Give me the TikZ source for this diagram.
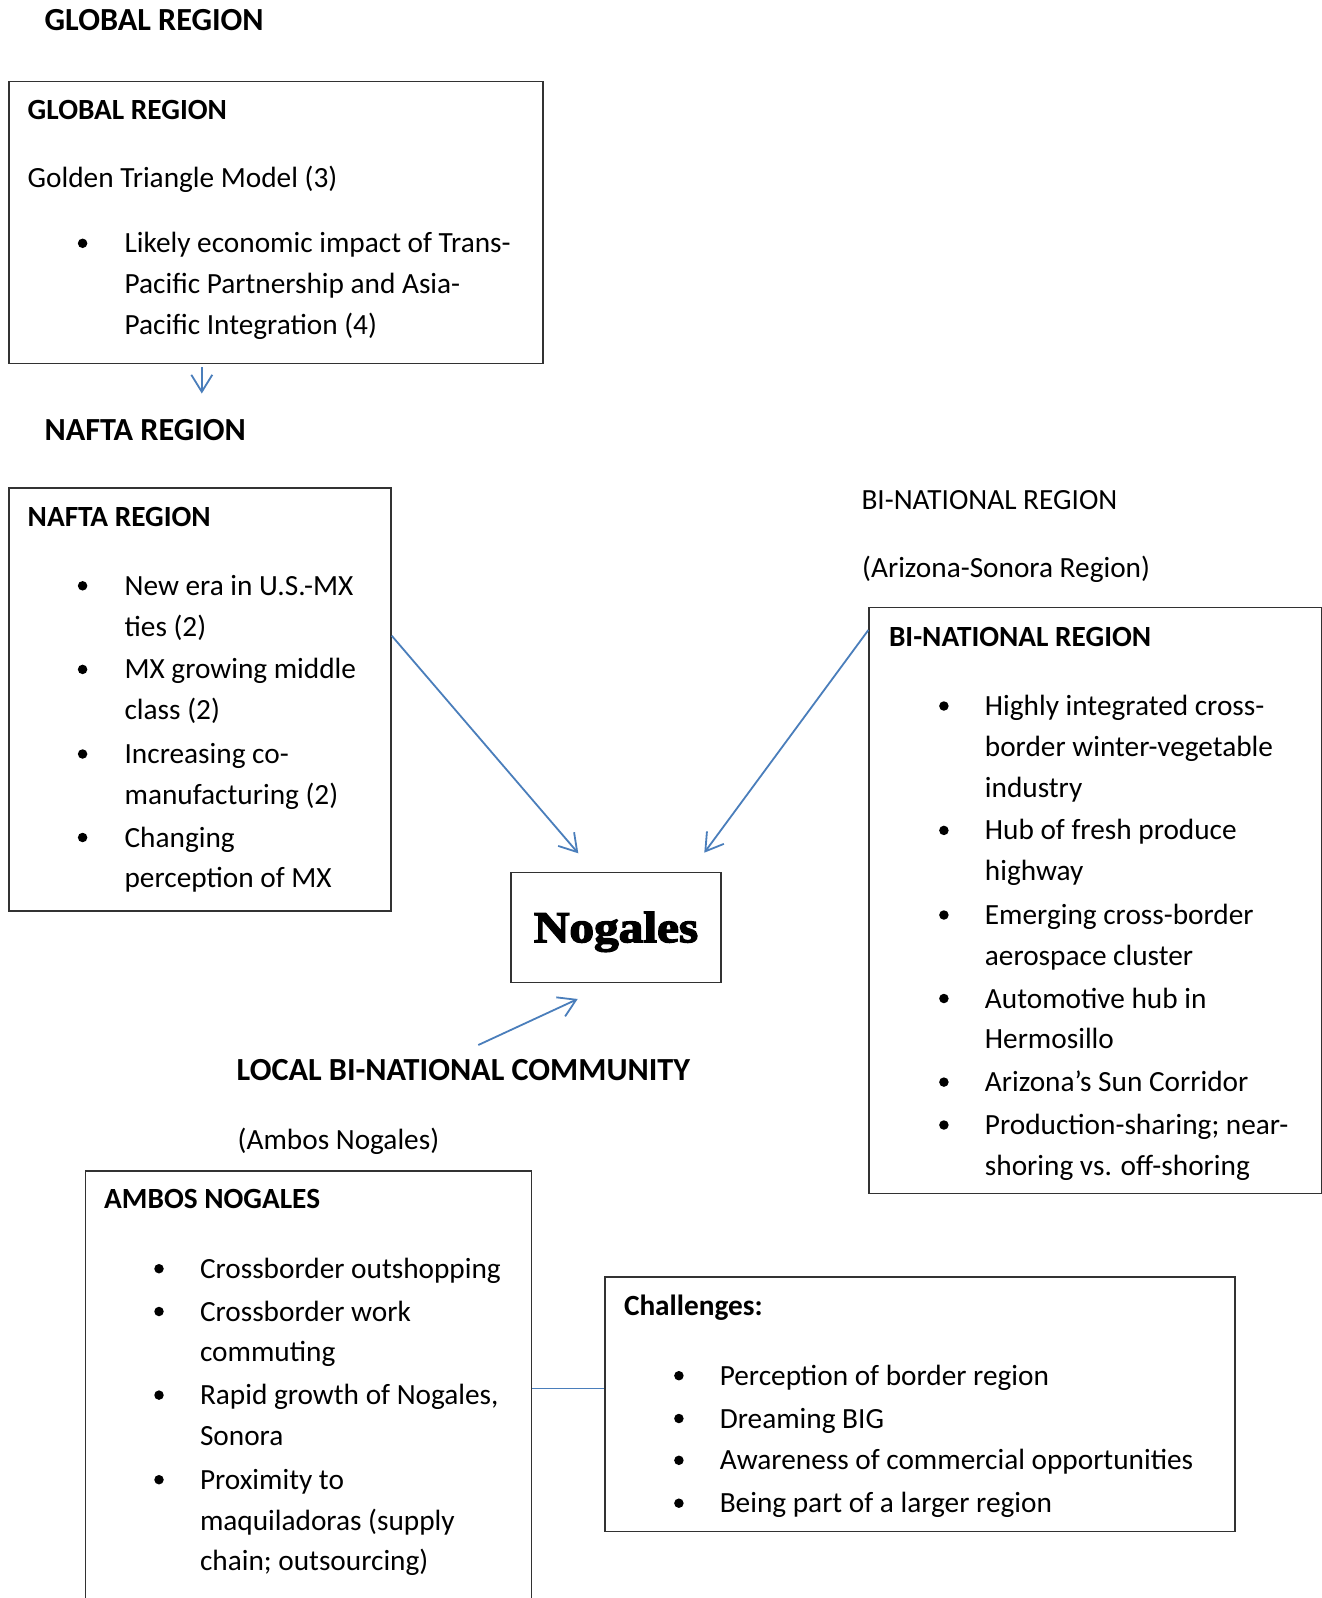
\documentclass[tikz,border=0pt]{standalone}
\usepackage{fontspec}
\setmainfont{Carlito}
\newfontfamily\nogfont[FakeBold=3]{Liberation Serif Bold}
\usetikzlibrary{arrows.meta}
\definecolor{arrowblue}{RGB}{74,126,187}
\definecolor{boxgray}{RGB}{50,50,50}
\newcommand\mytl[4]{\node[tx] (#1) at (#2,#3) {#4};}
\newcommand\myttl[4]{\node[ttl] (#1) at (#2,#3) {#4};}
\newcommand\mybul[3]{\node[bul] (#1) at (#2,#3-9.5) {};}
\begin{document}
\begin{tikzpicture}[x=1pt,y=-1pt,
  tx/.style={anchor=base west,inner sep=0pt,font=\fontsize{29.3pt}{40.8pt}\selectfont},
  ttl/.style={anchor=base west,inner sep=0pt,font=\fontsize{32.2pt}{40.8pt}\selectfont\bfseries},
  bul/.style={circle,fill=black,inner sep=0pt,minimum size=9.5pt},
  box/.style={draw=boxgray,line width=1.3pt,inner sep=0pt,anchor=north west},
  arr/.style={draw=arrowblue,line width=1.8pt,-{Straight Barb[length=17pt,width=21pt,line width=1.8pt]}},
  conn/.style={draw=arrowblue,line width=1.6pt}]
\useasboundingbox (0,0) rectangle (1322,1598);
\clip (0,0) rectangle (1322,1598);
\fill[white] (0,0) rectangle (1322,1598);

% Global
\myttl{gtitle}{44.5}{30}{GLOBAL REGION}
\node[box,minimum width=534.1pt,minimum height=282.4pt] (global) at (8.2,80.5) {};
\mytl{gh}{27.5}{119}{\bfseries GLOBAL REGION}
\mytl{g1}{27.5}{187.5}{Golden Triangle Model (3)}
\mybul{gb1}{82.6}{252.8}
\mytl{g2}{124.4}{252.8}{Likely economic impact of Trans-}
\mytl{g3}{124.4}{293.5}{Pacific Partnership and Asia-}
\mytl{g4}{124.4}{334.3}{Pacific Integration (4)}
\coordinate (a1s) at (201.8,367);
\coordinate (a1e) at (201.8,393.5);
\draw[arr] (a1s) -- (a1e);

% NAFTA
\myttl{ntitle}{44.5}{440.3}{NAFTA REGION}
\node[box,minimum width=382.2pt,minimum height=423pt] (nafta) at (8.2,487.2) {};
\mytl{nh}{27.5}{526}{\bfseries NAFTA REGION}
\mybul{nb1}{82.6}{595.3}
\mybul{nb2}{82.6}{678.9}
\mybul{nb3}{82.6}{763.5}
\mybul{nb4}{82.6}{847}
\mytl{n1}{124.4}{595.3}{New era in U.S.-MX}
\mytl{n2}{124.4}{636}{ties (2)}
\mytl{n3}{124.4}{678.9}{MX growing middle}
\mytl{n4}{124.4}{719.6}{class (2)}
\mytl{n5}{124.4}{763.5}{Increasing co-}
\mytl{n6}{124.4}{804.2}{manufacturing (2)}
\mytl{n7}{124.4}{847}{Changing}
\mytl{n8}{124.4}{887.8}{perception of MX}

% Bi-national
\mytl{btitle}{861.3}{509.7}{BI-NATIONAL REGION}
\mytl{bsub}{862}{577}{(Arizona-Sonora Region)}
\node[box,minimum width=452.6pt,minimum height=586.1pt] (bi) at (868.4,606.5) {};
\mytl{bh}{888.8}{646}{\bfseries BI-NATIONAL REGION}
\mybul{bb1}{943.9}{715.5}
\mybul{bb2}{943.9}{839.9}
\mybul{bb3}{943.9}{924.5}
\mybul{bb4}{943.9}{1008}
\mybul{bb5}{943.9}{1091.6}
\mybul{bb6}{943.9}{1134.5}
\mytl{b1}{984.7}{715.5}{Highly integrated cross-}
\mytl{b2}{984.7}{756.3}{border winter-vegetable}
\mytl{b3}{984.7}{797}{industry}
\mytl{b4}{984.7}{839.9}{Hub of fresh produce}
\mytl{b5}{984.7}{880.6}{highway}
\mytl{b6}{984.7}{924.5}{Emerging cross-border}
\mytl{b7}{984.7}{965.2}{aerospace cluster}
\mytl{b8}{984.7}{1008}{Automotive hub in}
\mytl{b9}{984.7}{1048.8}{Hermosillo}
\mytl{b10}{984.7}{1091.6}{Arizona’s Sun Corridor}
\mytl{b11}{984.7}{1134.5}{Production-sharing; near-}
\mytl{b12}{984.7}{1175.2}{shoring vs. off-shoring}

% Nogales
\node[box,anchor=center,minimum width=210pt,minimum height=110pt,text height=29pt,text depth=0pt] (nog) at (616,927.7)
  {\fontsize{44pt}{48pt}\nogfont\scalebox{1.12}[1]{Nogales}};

\coordinate (a2e) at (578.3,853.3);
\coordinate (a3e) at (704.3,852.7);
\coordinate (a4s) at (478.3,1045);
\coordinate (a4e) at (577.7,999);
\draw[arr] ([yshift=-148.5pt]nafta.north east) -- (a2e);
\draw[arr] ([yshift=-23.5pt]bi.north west) -- (a3e);
\draw[arr] (a4s) -- (a4e);

% Local
\myttl{ltitle}{236.5}{1080.5}{LOCAL BI-NATIONAL COMMUNITY}
\mytl{lsub}{237.5}{1149.8}{(Ambos Nogales)}
\node[box,minimum width=445.9pt,minimum height=500pt] (ambos) at (84.6,1170.2) {};
\mytl{ah}{104}{1208.9}{\bfseries AMBOS NOGALES}
\mybul{ab1}{159}{1278.2}
\mybul{ab2}{159}{1321}
\mybul{ab3}{159}{1404.6}
\mybul{ab4}{159}{1489.2}
\mytl{a1}{199.8}{1278.2}{Crossborder outshopping}
\mytl{a2}{199.8}{1321}{Crossborder work}
\mytl{a3}{199.8}{1361.8}{commuting}
\mytl{a4}{199.8}{1404.6}{Rapid growth of Nogales,}
\mytl{a5}{199.8}{1445.4}{Sonora}
\mytl{a6}{199.8}{1489.2}{Proximity to}
\mytl{a7}{199.8}{1530}{maquiladoras (supply}
\mytl{a8}{199.8}{1570.7}{chain; outsourcing)}

% Challenges
\node[box,minimum width=630pt,minimum height=254.8pt] (chal) at (604.4,1276.2) {};
\mytl{ch}{623.8}{1315.9}{\bfseries Challenges:}
\mybul{cb1}{678.9}{1385.2}
\mybul{cb2}{678.9}{1428}
\mybul{cb3}{678.9}{1469.8}
\mybul{cb4}{678.9}{1512.7}
\mytl{c1}{719.6}{1385.2}{Perception of border region}
\mytl{c2}{719.6}{1428}{Dreaming BIG}
\mytl{c3}{719.6}{1469.8}{Awareness of commercial opportunities}
\mytl{c4}{719.6}{1512.7}{Being part of a larger region}

\draw[conn] ([yshift=-218.1pt]ambos.north east) -- ([yshift=-112.1pt]chal.north west);
\end{tikzpicture}
\end{document}
